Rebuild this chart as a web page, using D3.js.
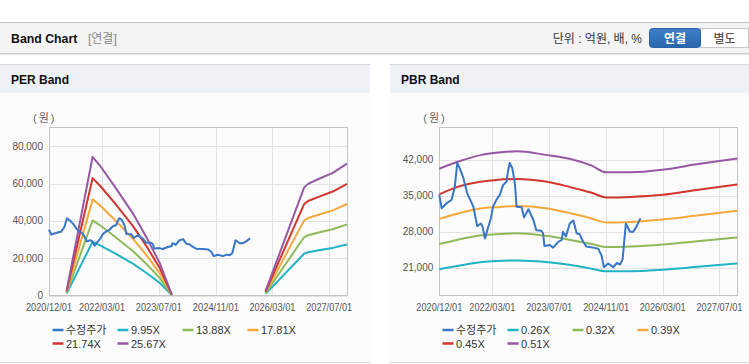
<!DOCTYPE html>
<html><head><meta charset="utf-8">
<script src="https://cdn.jsdelivr.net/npm/d3@7/dist/d3.min.js"></script>
<style>
html,body{margin:0;padding:0;background:#fff;}
svg{display:block;font-family:"Liberation Sans",Arial,"Noto Sans CJK KR",sans-serif;}
</style></head>
<body><svg id="c" width="749" height="364"></svg>
<script>
// ---------- DATA ----------
const seriesNamesPER = ["수정주가", "9.95X", "13.88X", "17.81X", "21.74X", "25.67X"];
const seriesNamesPBR = ["수정주가", "0.26X", "0.32X", "0.39X", "0.45X", "0.51X"];
const seriesColors = ["#3776c8", "#1fb3c4", "#8fba5a", "#f5a83c", "#d2362c", "#9757a5"];
const xTickLabels = ["2020/12/01", "2022/03/01", "2023/07/01", "2024/11/01", "2026/03/01", "2027/07/01"];
const perYTicks = [0, 20000, 40000, 60000, 80000];
const pbrYTicks = [21000, 28000, 35000, 42000];

// adjusted price (수정주가), shared by both charts
const priceDates = ["2020/12/01","2020/12/21","2021/02/04","2021/03/01","2021/03/16","2021/04/13","2021/05/04","2021/05/25",
  "2021/06/25","2021/07/28","2021/09/19","2021/10/22","2021/11/22","2021/12/07","2021/12/28","2022/01/16","2022/02/16",
  "2022/03/07","2022/04/04","2022/05/04","2022/06/01","2022/07/01","2022/07/13","2022/07/28","2022/08/19","2022/09/10",
  "2022/09/25","2022/11/07","2022/11/28","2023/01/04","2023/02/16","2023/03/13","2023/04/25","2023/05/10","2023/05/22",
  "2023/07/07","2023/08/04","2023/09/16","2023/10/16","2023/10/28","2023/11/22","2023/12/25","2024/01/25","2024/02/22",
  "2024/03/19","2024/04/19","2024/05/16","2024/07/13","2024/08/25","2024/09/22","2024/10/13","2024/11/19","2025/01/01",
  "2025/02/01","2025/02/28","2025/03/22","2025/04/19","2025/05/25","2025/06/22","2025/07/19","2025/08/22"];
const priceValues = [35200,32600,33600,34000,34200,36800,41400,40400,
  38500,35500,32900,29100,29600,29000,26700,28300,30600,
  32900,34200,35200,37100,37800,39800,41400,40400,37500,
  32900,32800,30800,32400,30300,28300,28200,27700,25200,
  25400,24900,26000,26400,28000,27100,29600,30200,27700,
  27500,26000,25100,24900,24700,23400,21100,21800,21100,
  21900,21600,22600,29600,28000,28000,29000,30600];

// PER band lines (null = no value)
const perBandDates = ["2021/05/01","2021/12/10","2022/02/12","2022/06/20","2022/11/20","2023/03/15","2023/07/10","2023/10/20",
  "2024/06/01","2026/01/01","2026/11/28","2027/01/01","2027/04/01","2027/08/01","2027/12/01"];
const per995  = [1000, 28800, 26900, 22600, 17100, 12200, 6700, 200, null, 900, 22400, 23200, 24200, 25500, 27300];
const per1388 = [1400, 40200, 37600, 31500, 23800, 17000, 9300, 280, null, 1250, 31200, 32300, 33700, 35500, 38100];
const per1781 = [1800, 51500, 48200, 40400, 30500, 21800, 11900, 360, null, 1600, 40100, 41500, 43300, 45600, 49000];
const per2174 = [2200, 62900, 58800, 49300, 37300, 26600, 14600, 430, null, 1950, 48900, 50600, 52800, 55700, 59800];
const per2567 = [2500, 74300, 69500, 58200, 44000, 31400, 17200, 510, null, 2300, 57800, 59800, 62400, 65700, 70600];

// PBR band lines
const pbrBandDates = ["2020/12/01","2021/05/01","2021/12/01","2022/04/01","2022/10/01","2023/06/01","2024/01/01",
  "2024/07/01","2024/11/01","2025/06/01","2026/03/01","2026/12/01","2027/12/01"];
const pbr026 = [20700, 21300, 22100, 22300, 22400, 22100, 21500, 20800, 20300, 20300, 20600, 21100, 21800];
const pbr032 = [25600, 26400, 27300, 27500, 27700, 27200, 26400, 25600, 25000, 25100, 25500, 26100, 26900];
const pbr039 = [30500, 31500, 32600, 32800, 33000, 32600, 31600, 30600, 29800, 29900, 30400, 31100, 32100];
const pbr045 = [35300, 36700, 37800, 38100, 38300, 37800, 36700, 35600, 34700, 34800, 35200, 36100, 37200];
const pbr051 = [40300, 41600, 43000, 43400, 43700, 43000, 42200, 40900, 39600, 39600, 40100, 41100, 42300];

// ---------- DRAW ----------
const parse = d3.timeParse("%Y/%m/%d");
const svg = d3.select("#c");

// header
svg.append("rect").attr("x",0).attr("y",22).attr("width",749).attr("height",31).attr("fill","#f4f4f4");
svg.append("line").attr("x1",0).attr("x2",749).attr("y1",22.5).attr("y2",22.5).attr("stroke","#c4c4c4");
svg.append("line").attr("x1",0).attr("x2",749).attr("y1",53.5).attr("y2",53.5).attr("stroke","#cdcdcd");
svg.append("line").attr("x1",0).attr("x2",749).attr("y1",54.5).attr("y2",54.5).attr("stroke","#e6e6e6");
svg.append("text").attr("x",11).attr("y",43).attr("font-size",12.3).attr("font-weight","bold").attr("fill","#111").text("Band Chart");
svg.append("text").attr("x",88).attr("y",43).attr("font-size",12).attr("fill","#888").text("[연결]");
svg.append("text").attr("x",642).attr("y",43).attr("text-anchor","end").attr("font-size",12).attr("fill","#333").text("단위 : 억원, 배, %");
const grad = svg.append("defs").append("linearGradient").attr("id","btn").attr("x1",0).attr("x2",0).attr("y1",0).attr("y2",1);
grad.append("stop").attr("offset","0%").attr("stop-color","#3f80c6");
grad.append("stop").attr("offset","100%").attr("stop-color","#2865ad");
svg.append("rect").attr("x",700).attr("y",28.5).attr("width",48.5).attr("height",19).attr("fill","#fff").attr("stroke","#c6c6c6");
svg.append("rect").attr("x",649.5).attr("y",28.5).attr("width",51).attr("height",19).attr("rx",3).attr("fill","url(#btn)").attr("stroke","#2a62a6");
svg.append("text").attr("x",675).attr("y",42.5).attr("text-anchor","middle").attr("font-size",12).attr("font-weight","bold").attr("fill","#fff").text("연결");
svg.append("text").attr("x",724.5).attr("y",42.5).attr("text-anchor","middle").attr("font-size",12).attr("fill","#333").text("별도");

function panel(opt) {
  const g = svg.append("g");
  g.append("rect").attr("x",opt.px).attr("y",64).attr("width",opt.pw).attr("height",299).attr("fill","#fcfcfc");
  g.append("rect").attr("x",opt.px).attr("y",64).attr("width",opt.pw).attr("height",29).attr("fill","#eef2f7");
  g.append("line").attr("x1",opt.px).attr("x2",opt.px+opt.pw).attr("y1",64.5).attr("y2",64.5).attr("stroke","#d6d9dd");
  g.append("line").attr("x1",opt.px).attr("x2",opt.px+opt.pw).attr("y1",362.5).attr("y2",362.5).attr("stroke","#d6d6d6");
  g.append("text").attr("x",opt.px+11).attr("y",84).attr("font-size",12).attr("font-weight","bold").attr("fill","#111").text(opt.title);

  const x = d3.scaleTime().domain([parse("2020/12/01"), parse("2027/12/01")]).range([opt.x0, opt.x1]);
  const y = d3.scaleLinear().domain(opt.yDomain).range([295.5, 127.5]);

  // grid
  const xt = xTickLabels.map(parse);
  g.append("g").selectAll("line").data(xt).join("line")
    .attr("x1",d=>Math.round(x(d))+0.5).attr("x2",d=>Math.round(x(d))+0.5).attr("y1",127.5).attr("y2",295.5)
    .attr("stroke","#e3e3e3");
  g.append("g").selectAll("line").data(opt.yTicks).join("line")
    .attr("x1",opt.x0).attr("x2",opt.x1).attr("y1",d=>Math.round(y(d))+0.5).attr("y2",d=>Math.round(y(d))+0.5)
    .attr("stroke","#e3e3e3");
  g.append("rect").attr("x",Math.round(opt.x0)+0.5).attr("y",127.5).attr("width",Math.round(opt.x1-opt.x0)).attr("height",168)
    .attr("fill","none").attr("stroke","#c4c4c4");

  // axes labels
  g.append("g").selectAll("text").data(opt.yTicks).join("text")
    .attr("x",opt.x0-6).attr("y",d=>y(d)+3.5).attr("text-anchor","end").attr("font-size",10).attr("fill","#555")
    .text(d=>d3.format(",")(d));
  g.append("g").selectAll("text").data(xTickLabels).join("text")
    .attr("x",d=>x(parse(d))).attr("y",310.5).attr("text-anchor","middle").attr("font-size",10).attr("fill","#555")
    .attr("textLength",46).attr("lengthAdjust","spacingAndGlyphs")
    .text(d=>d);
  g.append("text").attr("x",opt.x0-16).attr("y",122).attr("font-size",11).attr("letter-spacing",2).attr("fill","#666").text("(원)");

  // lines
  const lineG = g.append("g").attr("fill","none").attr("stroke-width",2).attr("stroke-linejoin","round");
  const bandDates = opt.bandDates.map(parse);
  opt.bands.forEach((vals, i) => {
    const pts = vals.map((v, k) => [bandDates[k], v]);
    const ln = d3.line().defined(d => d[1] != null).x(d => x(d[0])).y(d => y(d[1]));
    if (opt.smooth) ln.curve(d3.curveMonotoneX);
    lineG.append("path").attr("d", ln(pts)).attr("stroke", seriesColors[i+1]);
  });
  const pd = priceDates.map((d, k) => [parse(d), priceValues[k]]);
  lineG.append("path").attr("d", d3.line().x(d=>x(d[0])).y(d=>y(d[1]))(pd)).attr("stroke", seriesColors[0]);

  // legend
  const lg = g.append("g");
  opt.names.forEach((n, i) => {
    const col = i % 4, row = Math.floor(i / 4);
    const lx = opt.legX + col * 65, ly = 330 + row * 13.5;
    lg.append("line").attr("x1",lx).attr("x2",lx+11).attr("y1",ly).attr("y2",ly).attr("stroke",seriesColors[i]).attr("stroke-width",2.5);
    lg.append("text").attr("x",lx+13.5).attr("y",ly+4).attr("font-size",11).attr("fill","#333").text(n);
  });
}

panel({px:0, pw:370, title:"PER Band", x0:49, x1:347, yDomain:[0, 90000], yTicks:perYTicks,
  bandDates: perBandDates, bands:[per995, per1388, per1781, per2174, per2567], smooth:false,
  names: seriesNamesPER, legX: 52.5});
panel({px:390, pw:359, title:"PBR Band", x0:439.3, x1:737.3, yDomain:[15560, 48340], yTicks:pbrYTicks,
  bandDates: pbrBandDates, bands:[pbr026, pbr032, pbr039, pbr045, pbr051], smooth:true,
  names: seriesNamesPBR, legX: 442.5});
</script></body></html>
